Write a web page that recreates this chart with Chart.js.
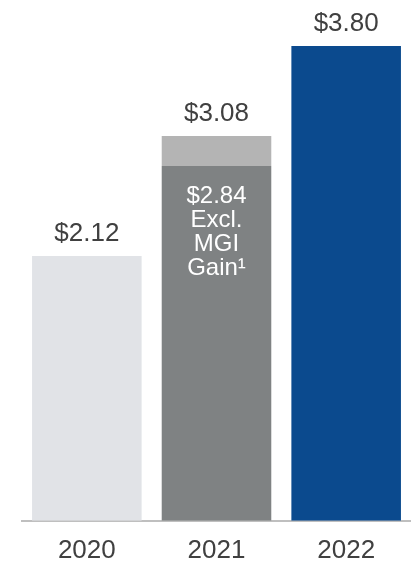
<!DOCTYPE html>
<html>
<head>
<meta charset="utf-8">
<script src="https://cdn.jsdelivr.net/npm/chart.js@4"></script>
<style>
  html, body { margin: 0; padding: 0; background: #fff; }
  #wrap { width: 411px; height: 566px; position: relative; }
</style>
</head>
<body>
<div id="wrap"><canvas id="epsChart"></canvas></div>
<script>
const years = ['2020', '2021', '2022'];
const baseEps = [2.12, 2.84, 3.80];
const mgiGain = [0, 0.24, 0];
const totalLabels = ['$2.12', '$3.08', '$3.80'];
const insideLines = ['$2.84', 'Excl.', 'MGI', 'Gain¹'];
const barColors = ['#e1e3e7', '#7f8283', '#0b4a8e'];
const gainColor = '#b4b4b4';

const textColor = '#404040';
const fontFamily = '"Liberation Sans", Arial, sans-serif';

const labelPlugin = {
  id: 'barLabels',
  afterDatasetsDraw(chart) {
    const { ctx } = chart;
    const base = chart.getDatasetMeta(0).data;
    const top = chart.getDatasetMeta(1).data;
    ctx.save();
    ctx.textAlign = 'center';
    ctx.textBaseline = 'alphabetic';
    ctx.font = '26px ' + fontFamily;
    ctx.fillStyle = textColor;
    base.forEach((bar, i) => {
      const y = mgiGain[i] ? top[i].y : bar.y;
      ctx.fillText(totalLabels[i], bar.x, y - 15);
    });

    // note inside the 2021 bar
    const b = base[1];
    ctx.font = '24px ' + fontFamily;
    ctx.fillStyle = '#ffffff';
    insideLines.forEach((line, k) => {
      ctx.fillText(line, b.x, b.y + 37 + k * 24);
    });
    ctx.restore();
  }
};

new Chart(document.getElementById('epsChart'), {
  type: 'bar',
  data: {
    labels: years,
    datasets: [
      {
        data: baseEps,
        backgroundColor: barColors,
        borderWidth: 0,
        barPercentage: 0.845,
        categoryPercentage: 1
      },
      {
        data: mgiGain,
        backgroundColor: gainColor,
        borderWidth: 0,
        barPercentage: 0.845,
        categoryPercentage: 1
      }
    ]
  },
  options: {
    responsive: true,
    maintainAspectRatio: false,
    animation: false,
    layout: { padding: { top: 21, left: 22, right: 0, bottom: -14 } },
    plugins: {
      legend: { display: false },
      tooltip: { enabled: false }
    },
    scales: {
      x: {
        stacked: true,
        grid: { display: false, drawTicks: false },
        border: { display: true, color: '#bfbfbf', width: 2 },
        ticks: {
          color: textColor,
          padding: 14,
          font: { family: fontFamily, size: 26 }
        }
      },
      y: {
        stacked: true,
        display: false,
        min: 0,
        max: 4.0
      }
    }
  },
  plugins: [labelPlugin]
});
</script>
</body>
</html>
